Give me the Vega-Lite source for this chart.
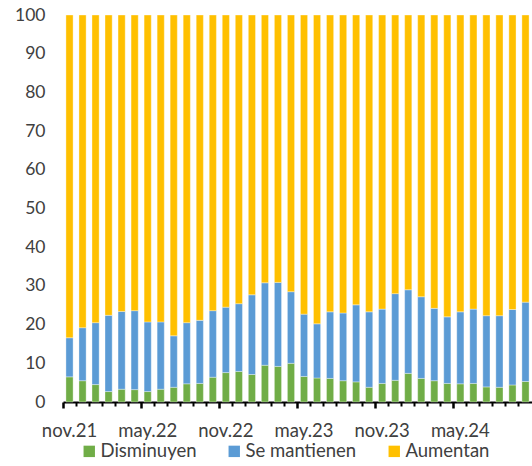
{
  "$schema": "https://vega.github.io/schema/vega-lite/v6.json",
  "autosize": "none",
  "width": 469,
  "height": 387,
  "padding": {"left": 63, "top": 15, "right": 0, "bottom": 64},
  "background": "white",
  "config": {
    "view": {"stroke": null},
    "font": "Lato",
    "axis": {"labelFont": "Lato", "labelColor": "#404040"},
    "legend": {"labelFont": "Lato", "labelColor": "#404040"}
  },
  "data": {
    "values": [
      {"mes": "nov.21", "Disminuyen": 6.5, "Se mantienen": 10.1, "Aumentan": 83.4},
      {"mes": "dic.21", "Disminuyen": 5.5, "Se mantienen": 13.7, "Aumentan": 80.8},
      {"mes": "ene.22", "Disminuyen": 4.5, "Se mantienen": 16.0, "Aumentan": 79.5},
      {"mes": "feb.22", "Disminuyen": 2.7, "Se mantienen": 19.7, "Aumentan": 77.6},
      {"mes": "mar.22", "Disminuyen": 3.3, "Se mantienen": 20.1, "Aumentan": 76.6},
      {"mes": "abr.22", "Disminuyen": 3.2, "Se mantienen": 20.4, "Aumentan": 76.4},
      {"mes": "may.22", "Disminuyen": 2.7, "Se mantienen": 18.0, "Aumentan": 79.3},
      {"mes": "jun.22", "Disminuyen": 3.3, "Se mantienen": 17.4, "Aumentan": 79.3},
      {"mes": "jul.22", "Disminuyen": 3.8, "Se mantienen": 13.3, "Aumentan": 82.9},
      {"mes": "ago.22", "Disminuyen": 4.7, "Se mantienen": 15.8, "Aumentan": 79.5},
      {"mes": "sep.22", "Disminuyen": 4.8, "Se mantienen": 16.3, "Aumentan": 78.9},
      {"mes": "oct.22", "Disminuyen": 6.4, "Se mantienen": 17.2, "Aumentan": 76.4},
      {"mes": "nov.22", "Disminuyen": 7.6, "Se mantienen": 16.9, "Aumentan": 75.5},
      {"mes": "dic.22", "Disminuyen": 7.9, "Se mantienen": 17.5, "Aumentan": 74.6},
      {"mes": "ene.23", "Disminuyen": 7.1, "Se mantienen": 20.6, "Aumentan": 72.3},
      {"mes": "feb.23", "Disminuyen": 9.5, "Se mantienen": 21.3, "Aumentan": 69.2},
      {"mes": "mar.23", "Disminuyen": 9.2, "Se mantienen": 21.7, "Aumentan": 69.1},
      {"mes": "abr.23", "Disminuyen": 10.0, "Se mantienen": 18.5, "Aumentan": 71.5},
      {"mes": "may.23", "Disminuyen": 6.6, "Se mantienen": 16.1, "Aumentan": 77.3},
      {"mes": "jun.23", "Disminuyen": 6.2, "Se mantienen": 14.0, "Aumentan": 79.8},
      {"mes": "jul.23", "Disminuyen": 6.1, "Se mantienen": 17.2, "Aumentan": 76.7},
      {"mes": "ago.23", "Disminuyen": 5.5, "Se mantienen": 17.5, "Aumentan": 77.0},
      {"mes": "sep.23", "Disminuyen": 5.2, "Se mantienen": 19.9, "Aumentan": 74.9},
      {"mes": "oct.23", "Disminuyen": 3.8, "Se mantienen": 19.5, "Aumentan": 76.7},
      {"mes": "nov.23", "Disminuyen": 4.8, "Se mantienen": 19.2, "Aumentan": 76.0},
      {"mes": "dic.23", "Disminuyen": 5.6, "Se mantienen": 22.4, "Aumentan": 72.0},
      {"mes": "ene.24", "Disminuyen": 7.4, "Se mantienen": 21.6, "Aumentan": 71.0},
      {"mes": "feb.24", "Disminuyen": 6.1, "Se mantienen": 21.1, "Aumentan": 72.8},
      {"mes": "mar.24", "Disminuyen": 5.5, "Se mantienen": 18.7, "Aumentan": 75.8},
      {"mes": "abr.24", "Disminuyen": 4.8, "Se mantienen": 17.2, "Aumentan": 78.0},
      {"mes": "may.24", "Disminuyen": 4.7, "Se mantienen": 18.6, "Aumentan": 76.7},
      {"mes": "jun.24", "Disminuyen": 4.8, "Se mantienen": 19.2, "Aumentan": 76.0},
      {"mes": "jul.24", "Disminuyen": 3.9, "Se mantienen": 18.4, "Aumentan": 77.7},
      {"mes": "ago.24", "Disminuyen": 3.8, "Se mantienen": 18.5, "Aumentan": 77.7},
      {"mes": "sep.24", "Disminuyen": 4.4, "Se mantienen": 19.5, "Aumentan": 76.1},
      {"mes": "oct.24", "Disminuyen": 5.3, "Se mantienen": 20.5, "Aumentan": 74.2}
    ]
  },
  "transform": [
    {"fold": ["Disminuyen", "Se mantienen", "Aumentan"], "as": ["serie", "valor"]},
    {"calculate": "indexof(['Disminuyen','Se mantienen','Aumentan'], datum.serie)", "as": "orden"}
  ],
  "mark": {"type": "bar", "width": {"band": 0.55}, "stroke": "white", "strokeOpacity": 0.35, "strokeWidth": 1},
  "encoding": {
    "x": {
      "field": "mes",
      "type": "ordinal",
      "sort": null,
      "scale": {"paddingInner": 0, "paddingOuter": 0},
      "axis": {
        "title": null,
        "bandPosition": 0,
        "labelAngle": 0,
        "labelOverlap": false,
        "labelOffset": 0,
        "labelFontSize": 18.5,
        "labelPadding": 13,
        "labelExpr": "indexof(['nov.21','may.22','nov.22','may.23','nov.23','may.24'], datum.value) >= 0 ? datum.value : ''",
        "domainColor": "black",
        "domainWidth": 2,
        "tickColor": "black",
        "tickWidth": {"condition": {"test": "indexof(['nov.21','may.22','nov.22','may.23','nov.23','may.24'], datum.value) >= 0", "value": 2.5}, "value": 2},
        "tickSize": {"condition": {"test": "indexof(['nov.21','may.22','nov.22','may.23','nov.23','may.24'], datum.value) >= 0", "value": 6}, "value": 4},
        "grid": false
      }
    },
    "y": {
      "field": "valor",
      "type": "quantitative",
      "stack": "zero",
      "scale": {"domain": [0, 100], "nice": false},
      "axis": {
        "title": null,
        "values": [0, 10, 20, 30, 40, 50, 60, 70, 80, 90, 100],
        "grid": false,
        "domain": false,
        "ticks": false,
        "labelFontSize": 17.5,
        "labelPadding": 18
      }
    },
    "color": {
      "field": "serie",
      "type": "nominal",
      "sort": ["Disminuyen", "Se mantienen", "Aumentan"],
      "scale": {
        "domain": ["Disminuyen", "Se mantienen", "Aumentan"],
        "range": ["#70AD47", "#5B9BD5", "#FFC000"]
      },
      "legend": {
        "title": null,
        "orient": "none",
        "direction": "horizontal",
        "legendX": 17,
        "legendY": 427,
        "symbolType": "square",
        "symbolSize": 130,
        "symbolStrokeWidth": 0,
        "labelFontSize": 18.5,
        "labelOffset": 2,
        "columnPadding": 28
      }
    },
    "order": {"field": "orden", "type": "quantitative", "sort": "ascending"}
  }
}
